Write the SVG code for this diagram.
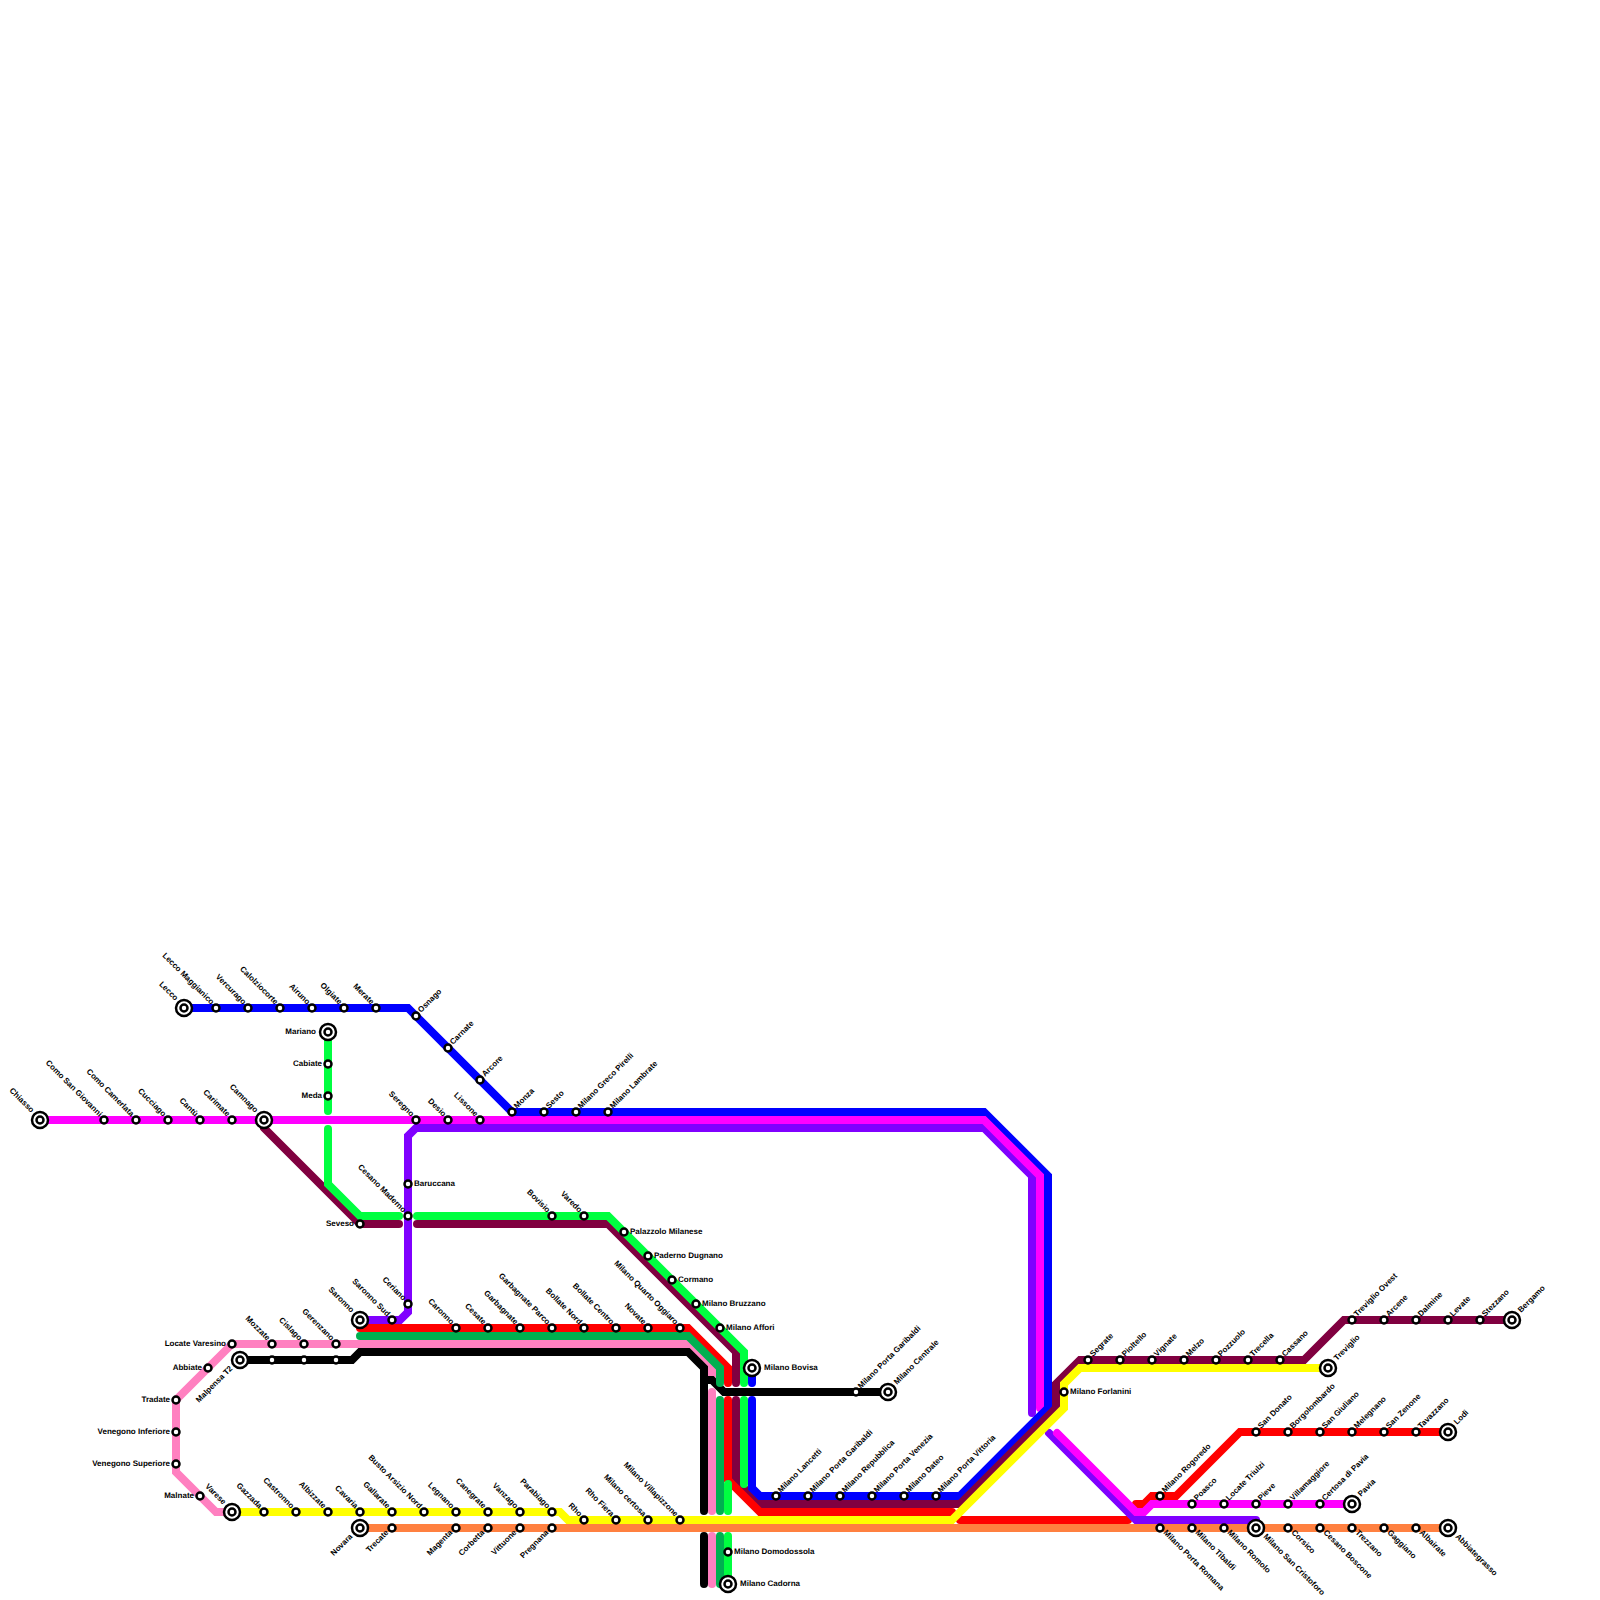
<svg xmlns="http://www.w3.org/2000/svg" width="1600" height="1600" viewBox="0 0 1600 1600">
<style>
.bg{fill:#fff}
.c path{fill:none;stroke-width:8;stroke-linecap:round;stroke-linejoin:miter}
.bu{stroke:#0000ff}.ma{stroke:#ff00ff}.vi{stroke:#8000ff}.li{stroke:#00ff40}.mr{stroke:#800040}.re{stroke:#ff0000}.dg{stroke:#00b050}.pi{stroke:#ff80c0}.bk{stroke:#000}.ye{stroke:#ffff00}.or{stroke:#ff8040}
circle{fill:#fff;stroke:#000;stroke-width:2.5}
text{font-family:"Liberation Sans",Arial,sans-serif;font-size:8px;font-weight:bold;fill:#000;text-rendering:geometricPrecision}
.ur{transform:translate(5px,-3px) rotate(-45deg)}
.ul{text-anchor:end;transform:translate(-5px,-3px) rotate(45deg)}
.dr{transform:translate(3px,5px) rotate(45deg)}
.dl{text-anchor:end;transform:translate(-3px,5px) rotate(-45deg)}
.r{transform:translate(6px,2px)}
.l{text-anchor:end;transform:translate(-6px,2px)}
.t.ur{transform:translate(9px,-7px) rotate(-45deg)}
.t.ul{text-anchor:end;transform:translate(-9px,-7px) rotate(45deg)}
.t.dr{transform:translate(7px,9px) rotate(45deg)}
.t.dl{text-anchor:end;transform:translate(-7px,9px) rotate(-45deg)}
.t.r{transform:translate(12px,2px)}
.t.l{text-anchor:end;transform:translate(-12px,2px)}
</style>
<rect class="bg" width="1600" height="1600"/>
<g id="connectors" class="c">
<path class="pi" d="M232 1344L176 1400V1472L216 1512H232M232 1344H688L712 1368V1376"/>
<path class="pi" d="M712 1392V1511M712 1536V1584"/>
<path class="bk" d="M240 1360H352L360 1352H688L704 1368V1511M704 1536V1584"/>
<path class="bk" d="M704 1380H712L724 1392H888"/>
<path class="mr" d="M264 1128L360 1224H399M417 1224H608L736 1352V1383"/>
<path class="mr" d="M736 1400V1480L760 1504H960L1056 1408V1384L1080 1360H1304L1344 1320H1512"/>
<path class="li" d="M328 1032V1111M328 1129V1184L360 1216H399M417 1216H608L744 1352V1383"/>
<path class="re" d="M360 1328H688L728 1368V1383"/>
<path class="re" d="M728 1400V1480L760 1512H952"/>
<path class="re" d="M960 1520H1128"/>
<path class="re" d="M1136 1504H1144L1152 1496H1176L1240 1432H1448"/>
<path class="dg" d="M360 1336H688L720 1368V1383"/>
<path class="dg" d="M720 1400V1511M720 1536V1584"/>
<path class="li" d="M744 1400V1484M728 1484V1511M728 1536V1584"/>
<path class="bu" d="M184 1008H408L512 1112H984L1048 1176V1408L960 1496H760L752 1488V1400M752 1368V1383"/>
<path class="vi" d="M360 1320H400L408 1312V1136L416 1128H984L1032 1176V1413"/>
<path class="ma" d="M40 1120H984L1040 1176V1408"/>
<path class="bu" d="M1048 1300V1408L960 1496"/>
<path class="mr" d="M1056 1408L960 1504"/>
<path class="vi" d="M1049 1433L1136 1520H1256"/>
<path class="ma" d="M1057 1433L1136 1512H1144L1152 1504H1352"/>
<path class="or" style="stroke-linecap:butt" d="M360 1528H1448"/>
<path class="ye" d="M232 1512H560L568 1520H952L1064 1408V1384L1080 1368H1328"/>
</g>
<defs>
<g id="tm"><circle r="8"/><circle r="3.5"/></g>
<circle id="st" r="3.5"/>
</defs>
<g class="n">
<g id="lecco" transform="translate(184 1008)"><use href="#tm"/><text class="t ul">Lecco</text></g>
<g id="lecco-m" transform="translate(216 1008)"><use href="#st"/><text class="ul">Lecco Maggianico</text></g>
<g id="vercurago" transform="translate(248 1008)"><use href="#st"/><text class="ul">Vercurago</text></g>
<g id="calolziocorte" transform="translate(280 1008)"><use href="#st"/><text class="ul">Calolziocorte</text></g>
<g id="airuno" transform="translate(312 1008)"><use href="#st"/><text class="ul">Airuno</text></g>
<g id="olgiate" transform="translate(344 1008)"><use href="#st"/><text class="ul">Olgiate</text></g>
<g id="merate" transform="translate(376 1008)"><use href="#st"/><text class="ul">Merate</text></g>
<g id="osnago" transform="translate(416 1016)"><use href="#st"/><text class="ur">Osnago</text></g>
<g id="carnate" transform="translate(448 1048)"><use href="#st"/><text class="ur">Carnate</text></g>
<g id="arcore" transform="translate(480 1080)"><use href="#st"/><text class="ur">Arcore</text></g>
<g id="monza" transform="translate(512 1112)"><use href="#st"/><text class="ur">Monza</text></g>
<g id="sesto" transform="translate(544 1112)"><use href="#st"/><text class="ur">Sesto</text></g>
<g id="greco" transform="translate(576 1112)"><use href="#st"/><text class="ur">Milano Greco Pirelli</text></g>
<g id="lambrate" transform="translate(608 1112)"><use href="#st"/><text class="ur">Milano Lambrate</text></g>
<g id="mariano" transform="translate(328 1032)"><use href="#tm"/><text class="t l">Mariano</text></g>
<g id="cabiate" transform="translate(328 1064)"><use href="#st"/><text class="l">Cabiate</text></g>
<g id="meda" transform="translate(328 1096)"><use href="#st"/><text class="l">Meda</text></g>
<g id="chiasso" transform="translate(40 1120)"><use href="#tm"/><text class="t ul">Chiasso</text></g>
<g id="como-sg" transform="translate(104 1120)"><use href="#st"/><text class="ul">Como San Giovanni</text></g>
<g id="como-c" transform="translate(136 1120)"><use href="#st"/><text class="ul">Como Camerlata</text></g>
<g id="cucciago" transform="translate(168 1120)"><use href="#st"/><text class="ul">Cucciago</text></g>
<g id="cantu" transform="translate(200 1120)"><use href="#st"/><text class="ul">Cantù</text></g>
<g id="carimate" transform="translate(232 1120)"><use href="#st"/><text class="ul">Carimate</text></g>
<g id="camnago" transform="translate(264 1120)"><use href="#tm"/><text class="t ul">Camnago</text></g>
<g id="seregno" transform="translate(416 1120)"><use href="#st"/><text class="ul">Seregno</text></g>
<g id="desio" transform="translate(448 1120)"><use href="#st"/><text class="ul">Desio</text></g>
<g id="lissone" transform="translate(480 1120)"><use href="#st"/><text class="ul">Lissone</text></g>
<g id="baruccana" transform="translate(408 1184)"><use href="#st"/><text class="r">Baruccana</text></g>
<g id="cesano-m" transform="translate(408 1216)"><use href="#st"/><text class="ul">Cesano Maderno</text></g>
<g id="seveso" transform="translate(360 1224)"><use href="#st"/><text class="l">Seveso</text></g>
<g id="bovisio" transform="translate(552 1216)"><use href="#st"/><text class="ul">Bovisio</text></g>
<g id="varedo" transform="translate(584 1216)"><use href="#st"/><text class="ul">Varedo</text></g>
<g id="palazzolo" transform="translate(624 1232)"><use href="#st"/><text class="r">Palazzolo Milanese</text></g>
<g id="paderno" transform="translate(648 1256)"><use href="#st"/><text class="r">Paderno Dugnano</text></g>
<g id="cormano" transform="translate(672 1280)"><use href="#st"/><text class="r">Cormano</text></g>
<g id="bruzzano" transform="translate(696 1304)"><use href="#st"/><text class="r">Milano Bruzzano</text></g>
<g id="affori" transform="translate(720 1328)"><use href="#st"/><text class="r">Milano Affori</text></g>
<g id="bovisa" transform="translate(752 1368)"><use href="#tm"/><text class="t r">Milano Bovisa</text></g>
<g id="saronno" transform="translate(360 1320)"><use href="#tm"/><text class="t ul">Saronno</text></g>
<g id="saronno-s" transform="translate(392 1320)"><use href="#st"/><text class="ul">Saronno Sud</text></g>
<g id="ceriano" transform="translate(408 1304)"><use href="#st"/><text class="ul">Ceriano</text></g>
<g id="caronno" transform="translate(456 1328)"><use href="#st"/><text class="ul">Caronno</text></g>
<g id="cesate" transform="translate(488 1328)"><use href="#st"/><text class="ul">Cesate</text></g>
<g id="garbagnate" transform="translate(520 1328)"><use href="#st"/><text class="ul">Garbagnate</text></g>
<g id="garbagnate-p" transform="translate(552 1328)"><use href="#st"/><text class="ul">Garbagnate Parco</text></g>
<g id="bollate-n" transform="translate(584 1328)"><use href="#st"/><text class="ul">Bollate Nord</text></g>
<g id="bollate-c" transform="translate(616 1328)"><use href="#st"/><text class="ul">Bollate Centro</text></g>
<g id="novate" transform="translate(648 1328)"><use href="#st"/><text class="ul">Novate</text></g>
<g id="quarto" transform="translate(680 1328)"><use href="#st"/><text class="ul">Milano Quarto Oggiaro</text></g>
<g id="locate-v" transform="translate(232 1344)"><use href="#st"/><text class="l">Locate Varesino</text></g>
<g id="mozzate" transform="translate(272 1344)"><use href="#st"/><text class="ul">Mozzate</text></g>
<g id="cislago" transform="translate(304 1344)"><use href="#st"/><text class="ul">Cislago</text></g>
<g id="gerenzano" transform="translate(336 1344)"><use href="#st"/><text class="ul">Gerenzano</text></g>
<g id="malpensa" transform="translate(240 1360)"><use href="#tm"/><text class="t dl">Malpensa T2</text></g>
<g id="b1" transform="translate(272 1360)"><use href="#st"/></g>
<g id="b2" transform="translate(304 1360)"><use href="#st"/></g>
<g id="b3" transform="translate(336 1360)"><use href="#st"/></g>
<g id="abbiate" transform="translate(208 1368)"><use href="#st"/><text class="l">Abbiate</text></g>
<g id="tradate" transform="translate(176 1400)"><use href="#st"/><text class="l">Tradate</text></g>
<g id="venegono-i" transform="translate(176 1432)"><use href="#st"/><text class="l">Venegono Inferiore</text></g>
<g id="venegono-s" transform="translate(176 1464)"><use href="#st"/><text class="l">Venegono Superiore</text></g>
<g id="malnate" transform="translate(200 1496)"><use href="#st"/><text class="l">Malnate</text></g>
<g id="varese" transform="translate(232 1512)"><use href="#tm"/><text class="t ul">Varese</text></g>
<g id="gazzada" transform="translate(264 1512)"><use href="#st"/><text class="ul">Gazzada</text></g>
<g id="castronno" transform="translate(296 1512)"><use href="#st"/><text class="ul">Castronno</text></g>
<g id="albizzate" transform="translate(328 1512)"><use href="#st"/><text class="ul">Albizzate</text></g>
<g id="cavaria" transform="translate(360 1512)"><use href="#st"/><text class="ul">Cavaria</text></g>
<g id="gallarate" transform="translate(392 1512)"><use href="#st"/><text class="ul">Gallarate</text></g>
<g id="busto" transform="translate(424 1512)"><use href="#st"/><text class="ul">Busto Arsizio Nord</text></g>
<g id="legnano" transform="translate(456 1512)"><use href="#st"/><text class="ul">Legnano</text></g>
<g id="canegrate" transform="translate(488 1512)"><use href="#st"/><text class="ul">Canegrate</text></g>
<g id="vanzago" transform="translate(520 1512)"><use href="#st"/><text class="ul">Vanzago</text></g>
<g id="parabiago" transform="translate(552 1512)"><use href="#st"/><text class="ul">Parabiago</text></g>
<g id="rho" transform="translate(584 1520)"><use href="#st"/><text class="ul">Rho</text></g>
<g id="rho-f" transform="translate(616 1520)"><use href="#st"/><text class="ul">Rho Fiera</text></g>
<g id="certosa" transform="translate(648 1520)"><use href="#st"/><text class="ul">Milano certosa</text></g>
<g id="villapizzone" transform="translate(680 1520)"><use href="#st"/><text class="ul">Milano Villapizzone</text></g>
<g id="novara" transform="translate(360 1528)"><use href="#tm"/><text class="t dl">Novara</text></g>
<g id="trecate" transform="translate(392 1528)"><use href="#st"/><text class="dl">Trecate</text></g>
<g id="magenta" transform="translate(456 1528)"><use href="#st"/><text class="dl">Magenta</text></g>
<g id="corbetta" transform="translate(488 1528)"><use href="#st"/><text class="dl">Corbetta</text></g>
<g id="vittuone" transform="translate(520 1528)"><use href="#st"/><text class="dl">Vittuone</text></g>
<g id="pregnana" transform="translate(552 1528)"><use href="#st"/><text class="dl">Pregnana</text></g>
<g id="domodossola" transform="translate(728 1552)"><use href="#st"/><text class="r">Milano Domodossola</text></g>
<g id="cadorna" transform="translate(728 1584)"><use href="#tm"/><text class="t r">Milano Cadorna</text></g>
<g id="pg-up" transform="translate(856 1392)"><use href="#st"/><text class="ur">Milano Porta Garibaldi</text></g>
<g id="centrale" transform="translate(888 1392)"><use href="#tm"/><text class="t ur">Milano Centrale</text></g>
<g id="lancetti" transform="translate(776 1496)"><use href="#st"/><text class="ur">Milano Lancetti</text></g>
<g id="garibaldi" transform="translate(808 1496)"><use href="#st"/><text class="ur">Milano Porta Garibaldi</text></g>
<g id="repubblica" transform="translate(840 1496)"><use href="#st"/><text class="ur">Milano Repubblica</text></g>
<g id="venezia" transform="translate(872 1496)"><use href="#st"/><text class="ur">Milano Porta Venezia</text></g>
<g id="dateo" transform="translate(904 1496)"><use href="#st"/><text class="ur">Milano Dateo</text></g>
<g id="vittoria" transform="translate(936 1496)"><use href="#st"/><text class="ur">Milano Porta Vittoria</text></g>
<g id="forlanini" transform="translate(1064 1392)"><use href="#st"/><text class="r">Milano Forlanini</text></g>
<g id="segrate" transform="translate(1088 1360)"><use href="#st"/><text class="ur">Segrate</text></g>
<g id="pioltello" transform="translate(1120 1360)"><use href="#st"/><text class="ur">Pioltello</text></g>
<g id="vignate" transform="translate(1152 1360)"><use href="#st"/><text class="ur">Vignate</text></g>
<g id="melzo" transform="translate(1184 1360)"><use href="#st"/><text class="ur">Melzo</text></g>
<g id="pozzuolo" transform="translate(1216 1360)"><use href="#st"/><text class="ur">Pozzuolo</text></g>
<g id="trecella" transform="translate(1248 1360)"><use href="#st"/><text class="ur">Trecella</text></g>
<g id="cassano" transform="translate(1280 1360)"><use href="#st"/><text class="ur">Cassano</text></g>
<g id="treviglio" transform="translate(1328 1368)"><use href="#tm"/><text class="t ur">Treviglio</text></g>
<g id="treviglio-o" transform="translate(1352 1320)"><use href="#st"/><text class="ur">Treviglio Ovest</text></g>
<g id="arcene" transform="translate(1384 1320)"><use href="#st"/><text class="ur">Arcene</text></g>
<g id="dalmine" transform="translate(1416 1320)"><use href="#st"/><text class="ur">Dalmine</text></g>
<g id="levate" transform="translate(1448 1320)"><use href="#st"/><text class="ur">Levate</text></g>
<g id="stezzano" transform="translate(1480 1320)"><use href="#st"/><text class="ur">Stezzano</text></g>
<g id="bergamo" transform="translate(1512 1320)"><use href="#tm"/><text class="t ur">Bergamo</text></g>
<g id="san-donato" transform="translate(1256 1432)"><use href="#st"/><text class="ur">San Donato</text></g>
<g id="borgolombardo" transform="translate(1288 1432)"><use href="#st"/><text class="ur">Borgolombardo</text></g>
<g id="san-giuliano" transform="translate(1320 1432)"><use href="#st"/><text class="ur">San Giuliano</text></g>
<g id="melegnano" transform="translate(1352 1432)"><use href="#st"/><text class="ur">Melegnano</text></g>
<g id="san-zenone" transform="translate(1384 1432)"><use href="#st"/><text class="ur">San Zenone</text></g>
<g id="tavazzano" transform="translate(1416 1432)"><use href="#st"/><text class="ur">Tavazzano</text></g>
<g id="lodi" transform="translate(1448 1432)"><use href="#tm"/><text class="t ur">Lodi</text></g>
<g id="rogoredo" transform="translate(1160 1496)"><use href="#st"/><text class="ur">Milano Rogoredo</text></g>
<g id="poasco" transform="translate(1192 1504)"><use href="#st"/><text class="ur">Poasco</text></g>
<g id="locate-t" transform="translate(1224 1504)"><use href="#st"/><text class="ur">Locate Triulzi</text></g>
<g id="pieve" transform="translate(1256 1504)"><use href="#st"/><text class="ur">Pieve</text></g>
<g id="villamaggiore" transform="translate(1288 1504)"><use href="#st"/><text class="ur">Villamaggiore</text></g>
<g id="certosa-p" transform="translate(1320 1504)"><use href="#st"/><text class="ur">Certosa di Pavia</text></g>
<g id="pavia" transform="translate(1352 1504)"><use href="#tm"/><text class="t ur">Pavia</text></g>
<g id="romana" transform="translate(1160 1528)"><use href="#st"/><text class="dr">Milano Porta Romana</text></g>
<g id="tibaldi" transform="translate(1192 1528)"><use href="#st"/><text class="dr">Milano Tibaldi</text></g>
<g id="romolo" transform="translate(1224 1528)"><use href="#st"/><text class="dr">Milano Romolo</text></g>
<g id="cristoforo" transform="translate(1256 1528)"><use href="#tm"/><text class="t dr">Milano San Cristoforo</text></g>
<g id="corsico" transform="translate(1288 1528)"><use href="#st"/><text class="dr">Corsico</text></g>
<g id="cesano-b" transform="translate(1320 1528)"><use href="#st"/><text class="dr">Cesano Boscone</text></g>
<g id="trezzano" transform="translate(1352 1528)"><use href="#st"/><text class="dr">Trezzano</text></g>
<g id="gaggiano" transform="translate(1384 1528)"><use href="#st"/><text class="dr">Gaggiano</text></g>
<g id="albairate" transform="translate(1416 1528)"><use href="#st"/><text class="dr">Albairate</text></g>
<g id="abbiategrasso" transform="translate(1448 1528)"><use href="#tm"/><text class="t dr">Abbiategrasso</text></g>
</g>
</svg>
